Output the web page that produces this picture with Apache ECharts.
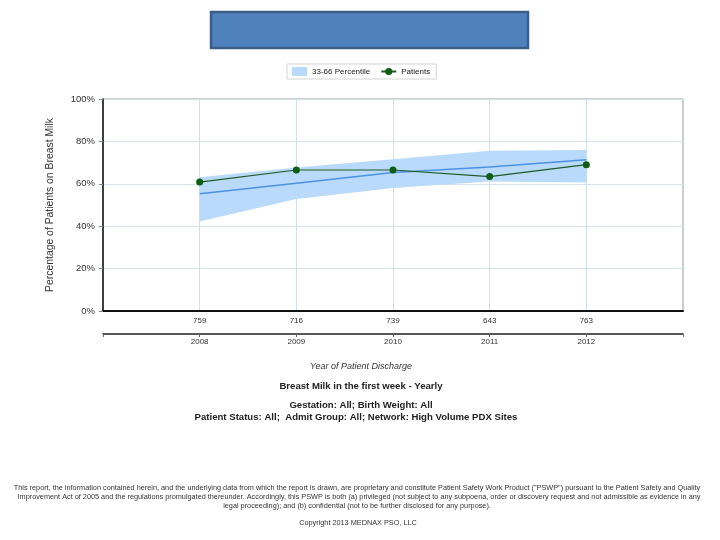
<!DOCTYPE html>
<html>
<head>
<meta charset="utf-8">
<script src="https://cdn.jsdelivr.net/npm/echarts@6/dist/echarts.min.js"></script>
<style>
html,body{margin:0;padding:0;background:#fff;}
#c{width:720px;height:540px;}
</style>
</head>
<body>
<div id="c"></div>
<script>
var years = [2008, 2009, 2010, 2011, 2012];
var counts = ['759', '716', '739', '643', '763'];
var patients = [60.8, 66.5, 66.5, 63.4, 69.0];
var median = [55.3, 60.3, 65.3, 67.9, 71.3];
var bandLow = [42.2, 52.8, 58.0, 61.1, 60.6];
var bandHigh = [63.1, 67.7, 71.6, 75.6, 76.0];

var font = '"Liberation Sans", Arial, sans-serif';
var bandColor = '#b9dafa';
function pairs(arr){ return years.map(function(y,i){ return [y, arr[i]]; }); }
var bandRows = years.map(function(y,i){ return [y, bandLow[i], bandHigh[i]]; });

var chart = echarts.init(document.getElementById('c'), null, {renderer:'canvas'});
var footer1 = 'This report, the information contained herein, and the underlying data from which the report is drawn, are proprietary and constitute Patient Safety Work Product ("PSWP") pursuant to the Patient Safety and Quality';
var footer2 = 'Improvement Act of 2005 and the regulations promulgated thereunder. Accordingly, this PSWP is both (a) privileged (not subject to any subpoena, order or discovery request and not admissible as evidence in any';
var footer3 = 'legal proceeding); and (b) confidential (not to be further disclosed for any purpose).';

chart.setOption({
  animation: false,
  textStyle: {fontFamily: font},
  grid: {left: 103, right: 37, top: 99, bottom: 229, show: true, borderColor: '#9a9a9a', borderWidth: 1},
  legend: {
    left: 287, top: 64,
    padding: [3, 6, 3, 5],
    borderColor: '#d4d4d4', borderWidth: 1,
    itemGap: 10, itemWidth: 15, itemHeight: 9,
    textStyle: {fontSize: 8, color: '#222', fontFamily: font},
    data: [{name: '33-66 Percentile', icon: 'rect'}, {name: 'Patients'}]
  },
  xAxis: [
    {
      type: 'value', min: 2007, max: 2013, interval: 1, position: 'bottom',
      axisLine: {show: true, lineStyle: {color: '#111', width: 2}},
      axisTick: {show: false},
      axisLabel: {margin: 6, fontSize: 8, color: '#333', fontFamily: font,
        formatter: function(v){ var i = years.indexOf(v); return i >= 0 ? counts[i] : ''; }},
      splitLine: {show: true, showMinLine: false, showMaxLine: false, lineStyle: {color: '#cfe0ee', width: 1}}
    },
    {
      type: 'value', min: 2007, max: 2013, interval: 1, position: 'bottom', offset: 23,
      axisLine: {show: true, lineStyle: {color: '#222', width: 1.5}},
      axisTick: {show: true, length: 3, lineStyle: {color: '#666'}},
      axisLabel: {margin: 4, fontSize: 8, color: '#333', fontFamily: font,
        formatter: function(v){ return years.indexOf(v) >= 0 ? String(v) : ''; }},
      splitLine: {show: false}
    }
  ],
  yAxis: {
    type: 'value', min: 0, max: 100, interval: 20,
    axisLine: {show: true, lineStyle: {color: '#111', width: 1.5}},
    axisTick: {show: true, length: 4, lineStyle: {color: '#888'}},
    axisLabel: {margin: 8, fontSize: 9.5, color: '#333', fontFamily: font, formatter: '{value}%'},
    splitLine: {show: true, lineStyle: {color: '#d5e1ec', width: 1}}
  },
  series: [
    {
      name: '33-66 Percentile', type: 'custom', data: bandRows,
      encode: {x: 0, y: [1, 2]},
      itemStyle: {color: bandColor},
      z: 2,
      renderItem: function(params, api){
        if (params.dataIndex !== 0) return null;
        var pts = [];
        for (var i = 0; i < bandRows.length; i++) pts.push(api.coord([bandRows[i][0], bandRows[i][2]]));
        for (var j = bandRows.length - 1; j >= 0; j--) pts.push(api.coord([bandRows[j][0], bandRows[j][1]]));
        return {type: 'polygon', shape: {points: pts}, style: {fill: bandColor, stroke: null}};
      }
    },
    {
      name: 'Median', type: 'line', data: pairs(median), symbol: 'none',
      lineStyle: {color: '#4b92e4', width: 1.5}, z: 3
    },
    {
      name: 'Patients', type: 'line', data: pairs(patients),
      symbol: 'circle', symbolSize: 7,
      itemStyle: {color: '#0d5e12'}, lineStyle: {color: '#1f5a24', width: 1.2}, z: 4
    }
  ],
  graphic: [
    {type: 'rect', shape: {x: 211, y: 12, width: 317, height: 36},
     style: {fill: '#4f81bd', stroke: '#3b5e89', lineWidth: 2.5}},
    {type: 'text', x: 50, y: 205, rotation: Math.PI/2,
     style: {text: 'Percentage of Patients on Breast Milk', font: '10.4px ' + font, fill: '#333', textAlign: 'center', textVerticalAlign: 'middle'}},
    {type: 'text', x: 361, y: 366,
     style: {text: 'Year of Patient Discharge', font: 'italic 9px ' + font, fill: '#333', textAlign: 'center', textVerticalAlign: 'middle'}},
    {type: 'text', x: 361, y: 386,
     style: {text: 'Breast Milk in the first week - Yearly', font: 'bold 9.6px ' + font, fill: '#222', textAlign: 'center', textVerticalAlign: 'middle'}},
    {type: 'text', x: 361, y: 405,
     style: {text: 'Gestation: All; Birth Weight: All', font: 'bold 9.6px ' + font, fill: '#222', textAlign: 'center', textVerticalAlign: 'middle'}},
    {type: 'text', x: 356, y: 417,
     style: {text: 'Patient Status: All;  Admit Group: All; Network: High Volume PDX Sites', font: 'bold 9.6px ' + font, fill: '#222', textAlign: 'center', textVerticalAlign: 'middle'}},
    {type: 'text', x: 357, y: 488,
     style: {text: footer1, font: '7.3px ' + font, fill: '#333', textAlign: 'center', textVerticalAlign: 'middle'}},
    {type: 'text', x: 359, y: 497,
     style: {text: footer2, font: '7.3px ' + font, fill: '#333', textAlign: 'center', textVerticalAlign: 'middle'}},
    {type: 'text', x: 357, y: 506,
     style: {text: footer3, font: '7.3px ' + font, fill: '#333', textAlign: 'center', textVerticalAlign: 'middle'}},
    {type: 'text', x: 358, y: 523,
     style: {text: 'Copyright 2013 MEDNAX PSO, LLC', font: '7.3px ' + font, fill: '#333', textAlign: 'center', textVerticalAlign: 'middle'}}
  ]
});
</script>
</body>
</html>
